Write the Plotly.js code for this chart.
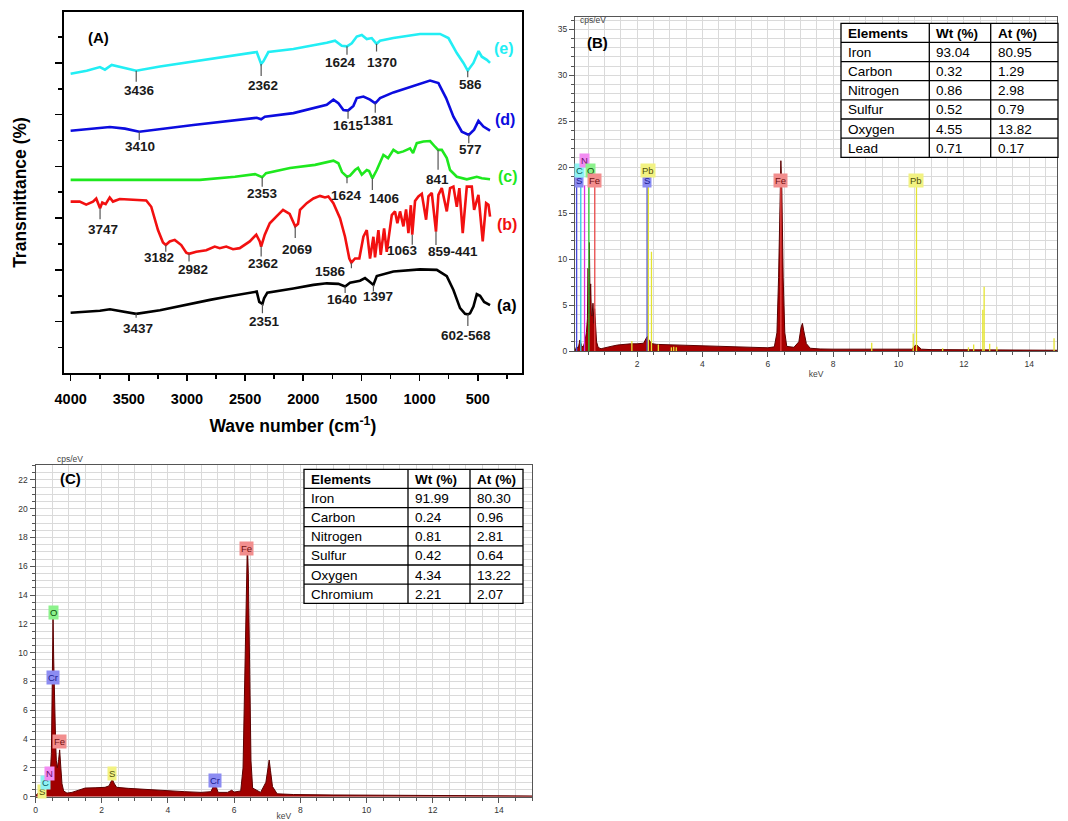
<!DOCTYPE html>
<html><head><meta charset="utf-8">
<script src="https://cdn.plot.ly/plotly-3.0.1.min.js"></script>
<style>html,body{margin:0;padding:0;background:#fff;}#chart{width:1068px;height:821px;}</style>
</head><body><div id="chart"></div>
<script>
// ---------------- (A) FTIR spectra (wavenumber cm-1, offset transmittance units) ----------------
const wn_a = [4000,3862,3748,3662,3576,3437,3232,3088,2945,2802,2658,2486,2400,2378,2351,2337,2309,2085,1913,1798,1698,1640,1598,1512,1469,1440,1397,1368,1225,996,852,766,709,652,609,585,566,537,508,480,445,394];
const tr_a = [1.17,1.19,1.21,1.24,1.21,1.15,1.22,1.29,1.35,1.42,1.48,1.55,1.58,1.38,1.34,1.45,1.56,1.64,1.71,1.74,1.73,1.68,1.75,1.79,1.84,1.79,1.71,1.88,1.97,2.01,2.00,1.88,1.61,1.26,1.15,1.14,1.16,1.29,1.53,1.50,1.38,1.32];

const wn_b = [4000,3922,3866,3808,3780,3747,3728,3699,3664,3636,3578,3350,3307,3249,3206,3182,3148,3105,3049,3006,2982,2920,2834,2761,2718,2662,2604,2546,2460,2404,2374,2362,2331,2288,2232,2174,2117,2088,2069,2045,2028,1970,1913,1856,1813,1784,1741,1684,1641,1604,1586,1555,1518,1483,1454,1426,1397,1383,1354,1334,1305,1282,1239,1211,1191,1168,1139,1116,1096,1075,1063,1039,1010,981,944,924,895,859,838,809,766,738,709,680,658,629,594,551,531,494,457,428,408,394];
const tr_b = [3.32,3.32,3.26,3.32,3.38,3.19,3.30,3.27,3.40,3.32,3.37,3.34,3.22,2.77,2.53,2.48,2.55,2.58,2.48,2.33,2.31,2.35,2.38,2.45,2.42,2.45,2.40,2.42,2.55,2.68,2.55,2.45,2.68,2.90,3.03,3.16,3.08,2.93,2.84,2.89,3.16,3.29,3.38,3.43,3.40,3.42,3.29,3.00,2.64,2.22,2.14,2.22,2.22,2.64,2.77,2.22,2.64,2.24,2.77,2.29,2.80,2.35,3.06,3.13,2.90,3.13,2.84,3.17,2.71,3.25,2.68,3.33,3.42,3.47,2.97,3.42,3.49,2.74,3.45,3.58,3.13,3.58,3.61,3.22,3.58,2.71,3.61,3.61,3.16,3.45,2.55,3.29,3.26,3.03];

const wn_c = [4000,3500,2888,2587,2415,2353,2320,2114,1899,1741,1698,1667,1624,1598,1555,1529,1497,1454,1434,1406,1368,1311,1271,1225,1185,1139,1082,1056,1024,967,910,867,841,809,766,738,680,594,508,465,394];
const tr_c = [3.74,3.74,3.74,3.80,3.85,3.79,3.87,3.97,4.03,4.11,4.06,3.89,3.80,3.82,3.93,3.97,3.84,3.93,3.91,3.77,3.93,4.22,4.16,4.32,4.26,4.29,4.35,4.26,4.45,4.48,4.49,4.38,4.32,4.32,4.16,3.93,3.80,3.75,3.80,3.77,3.75];

const wn_d = [4000,3748,3662,3533,3410,2945,2400,2362,2330,2085,1798,1741,1698,1655,1615,1569,1540,1483,1426,1381,1340,1225,1082,910,838,772,709,637,577,531,494,451,394];
const tr_d = [4.69,4.74,4.76,4.73,4.67,4.80,4.94,4.91,4.96,5.03,5.19,5.29,5.22,5.09,5.08,5.17,5.32,5.35,5.29,5.22,5.32,5.43,5.54,5.66,5.61,5.32,4.96,4.67,4.61,4.71,4.88,4.77,4.69];

const wn_e = [4000,3862,3748,3705,3647,3590,3436,3232,2945,2658,2400,2362,2343,2300,2085,1798,1727,1669,1624,1583,1540,1497,1454,1411,1370,1340,1225,996,824,752,680,623,586,537,493,465,422,394];
const tr_e = [5.79,5.85,5.92,5.87,5.96,5.93,5.85,5.93,6.03,6.12,6.21,5.98,6.03,6.21,6.27,6.39,6.43,6.33,6.32,6.38,6.51,6.54,6.46,6.48,6.37,6.43,6.48,6.56,6.56,6.48,6.19,6.00,5.85,6.00,6.23,6.12,6.06,6.00];

// peak assignments (tick position, label text)
const peaks_a = [3437, 2351, 1640, 1397, 585];
const peakText_a = ['3437','2351','1640','1397','602-568'];
const peaks_b = [3747, 3182, 2982, 2362, 2069, 1586, 1063, 859];
const peakText_b = ['3747','3182','2982','2362','2069','1586','1063','859-441'];
const peaks_c = [2353, 1624, 1406, 841];
const peakText_c = ['2353','1624','1406','841'];
const peaks_d = [3410, 1615, 1381, 577];
const peakText_d = ['3410','1615','1381','577'];
const peaks_e = [3436, 2362, 1624, 1370, 586];
const peakText_e = ['3436','2362','1624','1370','586'];
const seriesNames = ['(a)','(b)','(c)','(d)','(e)'];

// ---------------- (B) EDS spectrum ----------------
const eds_b_keV = [0.10,0.15,0.20,0.25,0.30,0.35,0.40,0.45,0.48,0.50,0.52,0.54,0.56,0.58,0.60,0.62,0.65,0.68,0.70,0.72,0.74,0.76,0.80,0.85,0.90,1.0,1.2,1.4,1.6,1.8,2.0,2.2,2.28,2.32,2.36,2.45,2.6,3.0,3.5,4.0,4.5,5.0,5.5,6.0,6.2,6.28,6.33,6.37,6.40,6.43,6.47,6.52,6.58,6.8,6.95,7.02,7.06,7.10,7.18,7.3,7.6,8.0,9.0,10.0,10.4,10.5,10.55,10.6,10.7,11.0,12.0,13.0,14.0,14.85];
const eds_b_cps = [0.0,0.5,0.3,1.2,0.6,0.4,1.0,2.0,3.5,9.0,4.0,11.8,6.0,7.3,4.0,3.8,5.2,3.0,4.6,3.5,2.0,1.0,0.5,0.3,0.25,0.35,0.5,0.65,0.75,0.78,0.78,0.85,1.4,1.6,1.2,0.8,0.72,0.68,0.6,0.52,0.45,0.42,0.38,0.35,0.45,2.0,8.0,17.0,20.7,17.5,8.0,2.0,0.5,0.4,1.0,2.6,3.0,2.2,0.8,0.3,0.22,0.2,0.18,0.15,0.2,0.55,0.7,0.5,0.2,0.15,0.12,0.1,0.08,0.08];
const b_lineEl = ['S','C','N','O','Fe','S','Pb','Fe','Pb'];
const b_lineE = [0.15,0.277,0.392,0.525,0.705,2.307,2.345,6.40,10.55];
const b_lineH = [18,18,18,18,18,18,18,18,18];
const b_pbE = [1.84,2.44,2.65,3.05,3.12,3.2,9.18,10.45,11.35,12.14,12.3,12.58,12.62,12.79,13.01,14.76];
const b_pbH = [1.1,10.8,0.7,0.4,0.45,0.4,0.9,1.9,0.3,0.4,0.7,4.5,7.0,0.8,0.45,1.4];
const tableB_el = ['Iron','Carbon','Nitrogen','Sulfur','Oxygen','Lead'];
const tableB_wt = ['93.04','0.32','0.86','0.52','4.55','0.71'];
const tableB_at = ['80.95','1.29','2.98','0.79','13.82','0.17'];

// ---------------- (C) EDS spectrum ----------------
const eds_c_keV = [0.0,0.05,0.15,0.25,0.32,0.39,0.44,0.48,0.51,0.53,0.55,0.57,0.59,0.61,0.63,0.66,0.70,0.73,0.76,0.80,0.85,0.95,1.1,1.3,1.5,1.8,2.1,2.22,2.28,2.32,2.37,2.45,2.8,3.3,3.9,4.5,5.0,5.3,5.37,5.41,5.46,5.52,5.8,5.93,6.0,6.2,6.27,6.32,6.36,6.40,6.43,6.47,6.51,6.56,6.8,6.96,7.02,7.06,7.10,7.16,7.3,7.8,9.0,11.0,13.0,15.0];
const eds_c_cps = [0,0.2,0.35,0.45,0.5,0.75,1.3,3.0,8.0,12.4,9.5,6.5,5.8,3.6,2.5,2.0,2.6,3.25,2.2,0.9,0.4,0.25,0.3,0.45,0.6,0.62,0.65,0.75,1.05,1.22,0.95,0.65,0.58,0.5,0.42,0.35,0.3,0.35,0.7,0.78,0.65,0.3,0.3,0.45,0.32,0.4,2.0,8.0,15.0,17.5,15.5,8.0,2.5,0.6,0.3,1.0,2.2,2.55,1.8,0.7,0.2,0.15,0.12,0.1,0.07,0.05];
const c_lblEl = ['S','C','N','O','Cr','Fe','S','Cr','Fe'];
const c_lblE = [0.15,0.277,0.392,0.525,0.573,0.705,2.307,5.41,6.40];
const tableC_el = ['Iron','Carbon','Nitrogen','Sulfur','Oxygen','Chromium'];
const tableC_wt = ['91.99','0.24','0.81','0.42','4.34','2.21'];
const tableC_at = ['80.30','0.96','2.81','0.64','13.22','2.07'];
const tableHeader = ['Elements','Wt (%)','At (%)'];

// ================= layout / styling =================
const W = 1068, H = 821;
const X = p => p / W, Y = p => 1 - p / H;
const ARIAL = 'Liberation Sans, Arial, sans-serif';
const SMALL = 'Liberation Sans, Arial, sans-serif';

const domA = {x: [64, 521.7], y: [11.7, 373.3]};
const domB = {x: [575, 1057], y: [17.3, 351]};
const domC = {x: [35.5, 532], y: [465, 796.7]};
const rangeAy = [0.001, 6.99];
const pxPerU = (domA.y[1] - domA.y[0]) / (rangeAy[1] - rangeAy[0]);

const ftSeries = [
  {wn: wn_a, tr: tr_a, pk: peaks_a, pt: peakText_a, color: '#000000', lab: [507, 306],
   st: [[4,14.3,2],[9.3,17.7,1.7],[6.6,12.6,-3],[6.7,11.7,5],[11.7,21,-2]]},
  {wn: wn_b, tr: tr_b, pk: peaks_b, pt: peakText_b, color: '#f21010', lab: [506.5, 224],
   st: [[11,21,3],[6.7,12.7,-6.6],[7.7,16,4],[10,17.3,1.7],[11.6,23.3,1.7],[5.6,9,-21],[10,16,-10],[13.3,20,17.3]]},
  {wn: wn_c, tr: tr_c, pk: peaks_c, pt: peakText_c, color: '#1ee81e', lab: [508, 176],
   st: [[9.4,16,0],[6.6,18.3,0],[11.7,20,12],[20,30,-1]]},
  {wn: wn_d, tr: tr_d, pk: peaks_d, pt: peakText_d, color: '#0c0cdf', lab: [505, 119],
   st: [[8.3,15,0.7],[8.3,15.3,0],[9.4,17.7,3.3],[8.3,15,1.7]]},
  {wn: wn_e, tr: tr_e, pk: peaks_e, pt: peakText_e, color: '#22eef4', lab: [503.5, 48.5],
   st: [[11,20,3.7],[12,21.7,2.2],[8.3,16.6,-6.7],[7.7,18.7,5.7],[6.6,14,2.4]]}
];

const traces = [];
const shapes = [];
const annotations = [];

function nearest(xs, ys, x) {
  let bi = 0, bd = Infinity;
  xs.forEach((v, i) => { const d = Math.abs(v - x); if (d < bd) { bd = d; bi = i; } });
  return ys[bi];
}

ftSeries.forEach((s, k) => {
  traces.push({type: 'scatter', mode: 'lines', x: s.wn, y: s.tr, xaxis: 'x', yaxis: 'y',
    line: {color: s.color, width: 2.6}, hoverinfo: 'skip', showlegend: false});
  s.pk.forEach((w, i) => {
    const u = nearest(s.wn, s.tr, w);
    const [tl, dy, dx] = s.st[i];
    shapes.push({type: 'line', xref: 'x', yref: 'y', x0: w, x1: w, y0: u, y1: u - tl / pxPerU,
      line: {color: '#555555', width: 1.2}});
    annotations.push({xref: 'x', yref: 'y', x: w, y: u, xshift: dx, yshift: -dy, showarrow: false,
      text: s.pt[i], xanchor: 'center', yanchor: 'middle',
      font: {family: ARIAL, size: 13.5, color: '#1a1a1a', weight: 'bold'}});
  });
  annotations.push({xref: 'paper', yref: 'paper', x: X(s.lab[0]), y: Y(s.lab[1]), showarrow: false,
    text: seriesNames[k], xanchor: 'center', yanchor: 'middle',
    font: {family: ARIAL, size: 16, color: s.color, weight: 'bold'}});
});
annotations.push({xref: 'paper', yref: 'paper', x: X(86), y: Y(27), showarrow: false, text: '(A)',
  font: {family: ARIAL, size: 15, color: '#000', weight: 'bold'}});

// ---------- EDS colours ----------
const boxB = {S: ['#8c8cf2', '#1c1c90'], C: ['#8ef2f2', '#0c5c5c'], N: ['#f28cf2', '#6c106c'],
  O: ['#8cf28c', '#0c500c'], Fe: ['#f28e8e', '#701010'], Pb: ['#f2f282', '#50500c']};
const boxC = {S: ['#f2f282', '#50500c'], C: ['#8ef2f2', '#0c5c5c'], N: ['#f28cf2', '#6c106c'],
  O: ['#8cf28c', '#0c500c'], Fe: ['#f28e8e', '#701010'], Cr: ['#8c8cf2', '#1c1c90']};
const elLine = {S: '#4848d8', C: '#30c8e8', N: '#e030e0', O: '#30c830', Fe: '#e84848', Pb: '#e4e430'};

// (B) spectrum
traces.push({type: 'scatter', mode: 'lines', x: eds_b_keV, y: eds_b_cps, xaxis: 'x2', yaxis: 'y2',
  fill: 'tozeroy', fillcolor: '#a80000', line: {color: '#5c0000', width: 1}, hoverinfo: 'skip', showlegend: false});
b_pbE.forEach((e, i) => traces.push({type: 'scatter', mode: 'lines', x: [e, e], y: [0, b_pbH[i]],
  xaxis: 'x2', yaxis: 'y2', line: {color: elLine.Pb, width: 1.3}, hoverinfo: 'skip', showlegend: false}));
b_lineE.forEach((e, i) => traces.push({type: 'scatter', mode: 'lines', x: [e, e], y: [0, b_lineH[i]],
  xaxis: 'x2', yaxis: 'y2', line: {color: elLine[b_lineEl[i]], width: 1.3}, hoverinfo: 'skip', showlegend: false}));
const bLevel = [0, 1, 2, 1, 0, 0, 1, 0, 0];
const bBoxDx = [2, -1, 0, 2, 0, 0, 0, 0, 0];
b_lineE.forEach((e, i) => {
  const el = b_lineEl[i];
  annotations.push({xref: 'x2', yref: 'y2', x: e, y: b_lineH[i], yshift: 5.5 + bLevel[i] * 9.6, xshift: bBoxDx[i],
    showarrow: false, text: el, bgcolor: boxB[el][0], borderpad: 1, xanchor: 'center', yanchor: 'middle',
    font: {family: SMALL, size: 9.5, color: boxB[el][1]}});
});
annotations.push({xref: 'paper', yref: 'paper', x: X(597), y: Y(32.5), showarrow: false, text: '(B)',
  font: {family: ARIAL, size: 15, color: '#000', weight: 'bold'}});
annotations.push({xref: 'paper', yref: 'paper', x: X(592.5), y: Y(12.5), showarrow: false, text: 'cps/eV',
  font: {family: SMALL, size: 8.5, color: '#444'}});

// (C) spectrum
traces.push({type: 'scatter', mode: 'lines', x: eds_c_keV, y: eds_c_cps, xaxis: 'x3', yaxis: 'y3',
  fill: 'tozeroy', fillcolor: '#a00000', line: {color: '#5c0000', width: 1}, hoverinfo: 'skip', showlegend: false});
const cBoxPos = [[0.19, 0.35], [0.29, 1.0], [0.41, 1.6], [0.54, 12.8], [0.52, 8.3], [0.74, 3.8], [2.31, 1.6], [5.42, 1.1], [6.38, 17.25]];
c_lblEl.forEach((el, i) => {
  annotations.push({xref: 'x3', yref: 'y3', x: cBoxPos[i][0], y: cBoxPos[i][1], showarrow: false, text: el,
    bgcolor: boxC[el][0], borderpad: 1, xanchor: 'center', yanchor: 'middle',
    font: {family: SMALL, size: 9.5, color: boxC[el][1]}});
});
annotations.push({xref: 'paper', yref: 'paper', x: X(58), y: Y(478), showarrow: false, text: '(C)',
  font: {family: ARIAL, size: 15, color: '#000', weight: 'bold'}});
annotations.push({xref: 'paper', yref: 'paper', x: X(55), y: Y(459), showarrow: false, text: 'cps/eV',
  font: {family: SMALL, size: 8.5, color: '#444'}});

// tables drawn as ruled text grids
function drawTable(cols, top, rowH, el, wt, at) {
  const nRows = el.length + 1;
  const bottom = top + nRows * rowH;
  const ln = {color: '#000', width: 1.3};
  shapes.push({type: 'rect', xref: 'paper', yref: 'paper', x0: X(cols[0]), x1: X(cols[3]), y0: Y(bottom), y1: Y(top),
    fillcolor: '#fff', line: ln, layer: 'above'});
  for (let c = 1; c < 3; c++) shapes.push({type: 'line', xref: 'paper', yref: 'paper', x0: X(cols[c]), x1: X(cols[c]),
    y0: Y(bottom), y1: Y(top), line: ln});
  for (let r = 1; r < nRows; r++) shapes.push({type: 'line', xref: 'paper', yref: 'paper', x0: X(cols[0]), x1: X(cols[3]),
    y0: Y(top + r * rowH), y1: Y(top + r * rowH), line: ln});
  const rows = [tableHeader].concat(el.map((e, i) => [e, wt[i], at[i]]));
  rows.forEach((row, r) => row.forEach((txt, c) => {
    annotations.push({xref: 'paper', yref: 'paper', x: X(cols[c] + 5), y: Y(top + r * rowH + rowH / 2 + 0.5),
      xanchor: 'left', yanchor: 'middle', showarrow: false, text: txt,
      font: {family: ARIAL, size: 13.5, color: '#000', weight: r === 0 ? 'bold' : 'normal'}});
  }));
}
drawTable([841, 929.3, 990.7, 1058], 23.3, 19.14, tableB_el, tableB_wt, tableB_at);
drawTable([304, 408, 470, 523], 469.3, 19.14, tableC_el, tableC_wt, tableC_at);

const edsTick = {family: SMALL, size: 8.5, color: '#333'};
const grid = '#dadada';

const layout = {
  width: W, height: H, margin: {l: 0, r: 0, t: 0, b: 0}, paper_bgcolor: '#fff', plot_bgcolor: '#fff',
  showlegend: false,
  xaxis: {domain: [X(domA.x[0]), X(domA.x[1])], range: [4057, 122], anchor: 'y',
    tickmode: 'linear', tick0: 0, dtick: 500, ticks: 'outside', ticklen: 6, tickwidth: 1.6, tickcolor: '#000',
    showline: true, linecolor: '#000', linewidth: 1.8, mirror: true, showgrid: false, zeroline: false,
    ticklabelstandoff: 5,
    tickfont: {family: ARIAL, size: 14.5, color: '#000', weight: 'bold'},
    minor: {dtick: 250, ticks: 'outside', ticklen: 4, tickwidth: 1.6, tickcolor: '#000', showgrid: false},
    title: {text: 'Wave number (cm<sup>-1</sup>)', standoff: 14,
      font: {family: ARIAL, size: 17.5, color: '#000', weight: 'bold'}}},
  yaxis: {domain: [Y(domA.y[1]), Y(domA.y[0])], range: rangeAy, anchor: 'x',
    tickmode: 'linear', tick0: 0, dtick: 1, ticks: 'outside', ticklen: 7, tickwidth: 1.6, tickcolor: '#000',
    showticklabels: false, showline: true, linecolor: '#000', linewidth: 1.8, mirror: true,
    showgrid: false, zeroline: false,
    minor: {dtick: 0.5, ticks: 'outside', ticklen: 4, tickwidth: 1.6, tickcolor: '#000', showgrid: false},
    title: {text: 'Transmittance (%)', standoff: 24,
      font: {family: ARIAL, size: 17.5, color: '#000', weight: 'bold'}}},
  xaxis2: {domain: [X(domB.x[0]), X(domB.x[1])], range: [0.1, 14.85], anchor: 'y2',
    tickmode: 'linear', tick0: 0, dtick: 2, ticks: 'outside', ticklen: 5, tickcolor: '#555',
    showline: true, linecolor: '#555', linewidth: 1, mirror: true, showgrid: true, gridcolor: grid, zeroline: false,
    tickfont: edsTick,
    minor: {dtick: 0.5, ticks: 'outside', ticklen: 3, tickcolor: '#555', showgrid: true, gridcolor: grid},
    title: {text: 'keV', standoff: 2, font: {family: SMALL, size: 8.5, color: '#444'}}},
  yaxis2: {domain: [Y(domB.y[1]), Y(domB.y[0])], range: [0, 36.3], anchor: 'x2',
    tickmode: 'linear', tick0: 0, dtick: 5, ticks: 'outside', ticklen: 5, tickcolor: '#555',
    showline: true, linecolor: '#555', linewidth: 1, mirror: true, showgrid: true, gridcolor: grid, zeroline: false,
    tickfont: edsTick,
    minor: {dtick: 1, ticks: 'outside', ticklen: 3, tickcolor: '#555', showgrid: true, gridcolor: grid}},
  xaxis3: {domain: [X(domC.x[0]), X(domC.x[1])], range: [0, 15], anchor: 'y3',
    tickmode: 'linear', tick0: 0, dtick: 2, ticks: 'outside', ticklen: 5, tickcolor: '#555',
    showline: true, linecolor: '#555', linewidth: 1, mirror: true, showgrid: true, gridcolor: grid, zeroline: false,
    tickfont: edsTick,
    minor: {dtick: 0.5, ticks: 'outside', ticklen: 3, tickcolor: '#555', showgrid: true, gridcolor: grid},
    title: {text: 'keV', standoff: 1, font: {family: SMALL, size: 8.5, color: '#444'}}},
  yaxis3: {domain: [Y(domC.y[1]), Y(domC.y[0])], range: [0, 23.03], anchor: 'x3',
    tickmode: 'linear', tick0: 0, dtick: 2, ticks: 'outside', ticklen: 5, tickcolor: '#555',
    showline: true, linecolor: '#555', linewidth: 1, mirror: true, showgrid: true, gridcolor: grid, zeroline: false,
    tickfont: edsTick,
    minor: {dtick: 0.5, ticks: 'outside', ticklen: 3, tickcolor: '#555', showgrid: true, gridcolor: grid}},
  shapes: shapes,
  annotations: annotations
};

Plotly.newPlot('chart', traces, layout, {displayModeBar: false, staticPlot: true});
</script></body></html>
